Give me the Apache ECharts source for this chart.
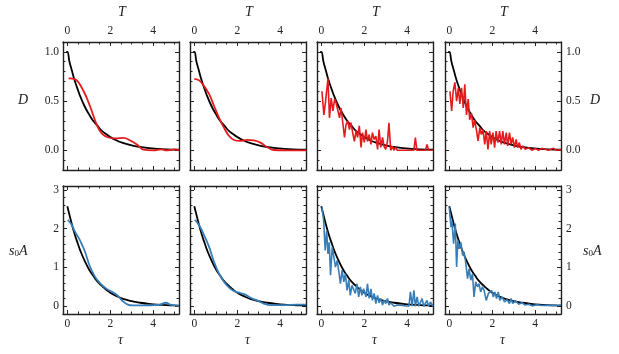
<!DOCTYPE html>
<html>
<head>
<meta charset="utf-8">
<script src="https://cdn.jsdelivr.net/npm/echarts@6/dist/echarts.min.js"></script>
<style>
  html, body { margin: 0; padding: 0; background: #fff; }
  #chart { width: 619px; height: 354px; }
</style>
</head>
<body>
<div id="chart"></div>
<script>
// tick values
const xTicks = [0, 2, 4]
const xMinor = [0.5, 1, 1.5, 2.5, 3, 3.5, 4.5, 5]
const dTicks = [0, 0.5, 1]
const dMinor = [-0.1, 0.1, 0.2, 0.3, 0.4, 0.6, 0.7, 0.8, 0.9]
const aTicks = [0, 1, 2, 3]
const aMinor = [0.2, 0.4, 0.6, 0.8, 1.2, 1.4, 1.6, 1.8, 2.2, 2.4, 2.6, 2.8]

// black reference curves [tau, value]
const blackD = [[-0.05, 1.0], [0, 1.0], [0.1, 0.9], [0.2, 0.82], [0.3, 0.74], [0.4, 0.67], [0.5, 0.61],
  [0.6, 0.55], [0.8, 0.45], [1.0, 0.37], [1.2, 0.3], [1.4, 0.25], [1.6, 0.2], [1.8, 0.165],
  [2.0, 0.135], [2.3, 0.1], [2.6, 0.075], [3.0, 0.05], [3.4, 0.034], [3.8, 0.022], [4.2, 0.015],
  [4.6, 0.01], [5.0, 0.007], [5.2, 0.006]]
const blackA = [[0, 2.58], [0.1, 2.36], [0.2, 2.14], [0.3, 1.94], [0.4, 1.76], [0.5, 1.6], [0.6, 1.44],
  [0.8, 1.18], [1.0, 0.96], [1.2, 0.79], [1.4, 0.64], [1.6, 0.53], [1.8, 0.43], [2.0, 0.35],
  [2.3, 0.26], [2.6, 0.19], [3.0, 0.13], [3.4, 0.09], [3.8, 0.06], [4.2, 0.04], [4.6, 0.03],
  [5.0, 0.02], [5.2, 0.017]]

// red D estimates, one per column
const redD1 = [[0.06, 0.73], [0.37, 0.72], [0.76, 0.6], [1.07, 0.44], [1.38, 0.255], [1.61, 0.17],
  [1.92, 0.13], [2.23, 0.12], [2.62, 0.126], [2.93, 0.1], [3.24, 0.06], [3.55, 0.007], [4.0, 0],
  [4.4, 0.01], [4.6, 0], [5.0, 0.01], [5.2, 0]]
const redD2 = [[0, 0.726], [0.23, 0.71], [0.46, 0.65], [0.69, 0.57], [0.92, 0.45], [1.15, 0.33],
  [1.38, 0.23], [1.62, 0.145], [1.85, 0.105], [2.15, 0.095], [2.46, 0.105], [2.77, 0.1],
  [3.08, 0.078], [3.38, 0.034], [3.69, 0.003], [4.3, 0], [5.2, 0]]
const redD3 = [[0.03, 0.6], [0.12, 0.36], [0.2, 0.5], [0.31, 0.73], [0.38, 0.33], [0.46, 0.53],
  [0.54, 0.4], [0.62, 0.52], [0.69, 0.48], [0.77, 0.5], [0.85, 0.33], [0.92, 0.43], [1.0, 0.42],
  [1.08, 0.13], [1.15, 0.26], [1.23, 0.3], [1.31, 0.21], [1.38, 0.28], [1.46, 0.18], [1.54, 0.09],
  [1.62, 0.2], [1.69, 0.13], [1.77, 0.25], [1.85, 0.03], [1.92, 0.18], [2.0, 0.08], [2.08, 0.21],
  [2.15, 0.09], [2.23, 0.16], [2.31, 0.06], [2.38, 0.18], [2.46, 0.11], [2.54, 0.145], [2.62, 0.01],
  [2.69, 0.21], [2.77, 0.03], [2.85, 0.13], [2.92, 0.04], [3.0, 0.01], [3.08, 0.09], [3.15, 0.28],
  [3.23, 0], [3.31, 0.04], [3.38, 0], [3.46, 0.03], [3.54, 0], [4.31, 0], [4.38, 0.13], [4.45, 0],
  [4.85, 0], [4.92, 0.06], [5.0, 0], [5.2, 0]]
const redD4 = [[0.03, 0.6], [0.11, 0.4], [0.18, 0.6], [0.26, 0.69], [0.34, 0.5], [0.42, 0.635],
  [0.49, 0.47], [0.57, 0.635], [0.65, 0.43], [0.72, 0.67], [0.8, 0.36], [0.88, 0.52], [0.95, 0.31],
  [1.03, 0.38], [1.11, 0.23], [1.18, 0.31], [1.26, 0.21], [1.34, 0.095], [1.42, 0.23], [1.49, 0.16],
  [1.57, 0.21], [1.65, 0.06], [1.72, 0.196], [1.8, 0.01], [1.88, 0.196], [1.95, 0.06], [2.03, 0.18],
  [2.11, 0.027], [2.18, 0.196], [2.26, 0.078], [2.34, 0.196], [2.42, 0.06], [2.49, 0.196], [2.57, 0.06],
  [2.65, 0.18], [2.72, 0.044], [2.8, 0.18], [2.88, 0.06], [2.95, 0.13], [3.03, 0.027], [3.11, 0.11],
  [3.18, 0.027], [3.26, 0.078], [3.34, 0.01], [3.42, 0.044], [3.54, 0.01], [3.69, 0.027], [3.85, 0],
  [4.0, 0.02], [4.15, 0], [4.31, 0.02], [4.62, 0], [4.85, 0.02], [5.0, 0], [5.2, 0.007]]

// blue s0A estimates, one per column
const blueA1 = [[0.02, 2.23], [0.2, 2.1], [0.35, 1.93], [0.58, 1.71], [0.82, 1.41], [1.05, 1.03],
  [1.28, 0.77], [1.51, 0.6], [1.82, 0.45], [2.12, 0.36], [2.35, 0.27], [2.58, 0.13], [2.82, 0.04],
  [3.05, 0.02], [3.5, 0.02], [4.0, 0.03], [4.3, 0.04], [4.6, 0.09], [4.8, 0.04], [5.05, 0.02], [5.2, 0]]
const blueA2 = [[0.03, 2.23], [0.23, 2.08], [0.46, 1.83], [0.69, 1.53], [0.92, 1.14], [1.15, 0.84],
  [1.38, 0.63], [1.62, 0.48], [1.85, 0.39], [2.15, 0.34], [2.38, 0.3], [2.62, 0.22], [2.92, 0.15],
  [3.23, 0.07], [3.54, 0.03], [4.15, 0.03], [4.77, 0.04], [5.2, 0.04]]
const blueA3 = [[0.03, 2.55], [0.11, 2.21], [0.18, 1.44], [0.25, 1.95], [0.31, 1.35], [0.37, 1.65],
  [0.43, 0.8], [0.51, 1.53], [0.58, 1.57], [0.66, 1.01], [0.74, 1.18], [0.82, 0.88], [0.89, 0.58],
  [0.97, 0.93], [1.05, 0.63], [1.12, 0.84], [1.2, 0.41], [1.28, 0.67], [1.35, 0.28], [1.43, 0.54],
  [1.51, 0.5], [1.58, 0.33], [1.66, 0.58], [1.74, 0.24], [1.82, 0.5], [1.89, 0.28], [1.97, 0.45],
  [2.08, 0.24], [2.15, 0.58], [2.23, 0.2], [2.31, 0.45], [2.38, 0.15], [2.46, 0.33], [2.54, 0.07],
  [2.62, 0.28], [2.69, 0.09], [2.77, 0.2], [2.85, 0.03], [2.92, 0.15], [3.0, 0.07], [3.08, 0.2],
  [3.15, 0.03], [3.23, 0.09], [3.38, 0], [3.54, 0.03], [4.08, 0], [4.15, 0.37], [4.23, 0], [4.31, 0.41],
  [4.38, 0], [4.46, 0.24], [4.54, 0], [4.69, 0.2], [4.77, 0], [4.92, 0.15], [5.0, 0], [5.08, 0.11],
  [5.2, 0]]
const blueA4 = [[0, 2.55], [0.08, 2.04], [0.12, 2.21], [0.2, 1.61], [0.28, 2.13], [0.34, 1.01],
  [0.4, 1.7], [0.46, 1.48], [0.54, 1.65], [0.62, 1.31], [0.69, 1.4], [0.77, 1.1], [0.85, 0.71],
  [0.92, 0.97], [1.0, 0.67], [1.08, 0.84], [1.15, 0.24], [1.23, 0.63], [1.31, 0.5], [1.38, 0.58],
  [1.46, 0.37], [1.54, 0.5], [1.62, 0.41], [1.72, 0.15], [1.82, 0.33], [1.89, 0.28], [1.97, 0.41],
  [2.05, 0.24], [2.12, 0.37], [2.2, 0.2], [2.28, 0.37], [2.35, 0.15], [2.46, 0.24], [2.57, 0.11],
  [2.69, 0.17], [2.8, 0.07], [2.88, 0.2], [2.95, 0.07], [3.08, 0.14], [3.23, 0.05], [3.38, 0.09],
  [3.54, 0.03], [3.69, 0.05], [3.85, 0.01], [4.08, 0.04], [4.31, 0.02], [4.62, 0.03], [4.92, 0.02],
  [5.2, 0.03]]

const redSets = [redD1, redD2, redD3, redD4]
const blueSets = [blueA1, blueA2, blueA3, blueA4]

const RED = '#e41a1c'
const BLUE = '#377eb8'
const INK = '#222'
const FONT = 'Liberation Serif'

const lefts = [63, 190, 317, 445]
const tops = [42, 186]
const W = 116
const H = 128

const chart = echarts.init(document.getElementById('chart'))

const grids = []
const xAxes = []
const yAxes = []
const series = []

function axis(kind, g, pos, major, labels, range, fmt) {
  const isX = kind === 'x'
  return {
    type: 'value',
    gridIndex: g,
    position: pos,
    min: range[0],
    max: range[1],
    splitLine: { show: false },
    axisLine: { show: major, onZero: false, lineStyle: { color: INK, width: 1.4 } },
    axisTick: {
      show: true,
      inside: true,
      length: major ? 4 : 2.5,
      customValues: major ? (isX ? xTicks : fmt.ticks) : (isX ? xMinor : fmt.minor),
      lineStyle: { color: INK, width: 1 }
    },
    axisLabel: {
      show: labels,
      customValues: isX ? xTicks : fmt.ticks,
      margin: isX ? (pos === 'top' ? 5 : 4) : (pos === 'left' ? 4 : 5),
      fontFamily: FONT,
      fontSize: 11.5,
      color: INK,
      formatter: v => isX ? String(v) : fmt.label(v)
    }
  }
}

const rowFmt = [
  { ticks: dTicks, minor: dMinor, range: [-0.2, 1.1], label: v => v.toFixed(1) },
  { ticks: aTicks, minor: aMinor, range: [-0.2, 3.1], label: v => String(v) }
]

for (let r = 0; r < 2; r++) {
  for (let c = 0; c < 4; c++) {
    const g = r * 4 + c
    const f = rowFmt[r]
    grids.push({ left: lefts[c], top: tops[r], width: W, height: H, containLabel: false, outerBoundsMode: 'none' })
    const xr = [-0.2, 5.2]
    xAxes.push(axis('x', g, 'bottom', true, r === 1, xr, f))
    xAxes.push(axis('x', g, 'top', true, r === 0, xr, f))
    xAxes.push(axis('x', g, 'bottom', false, false, xr, f))
    xAxes.push(axis('x', g, 'top', false, false, xr, f))
    yAxes.push(axis('y', g, 'left', true, c === 0, f.range, f))
    yAxes.push(axis('y', g, 'right', true, c === 3, f.range, f))
    yAxes.push(axis('y', g, 'left', false, false, f.range, f))
    yAxes.push(axis('y', g, 'right', false, false, f.range, f))

    const smooth = c < 2
    series.push({
      type: 'line', xAxisIndex: 4 * g, yAxisIndex: 4 * g,
      data: r === 0 ? blackD : blackA, showSymbol: false, smooth: true,
      lineStyle: { color: '#000', width: 1.8 }, z: 2
    })
    series.push({
      type: 'line', xAxisIndex: 4 * g, yAxisIndex: 4 * g,
      data: r === 0 ? redSets[c] : blueSets[c], showSymbol: false,
      smooth: smooth ? 0.4 : false,
      lineStyle: { color: r === 0 ? RED : BLUE, width: smooth ? 1.8 : 1.6 }, z: 3
    })
  }
}

const centers = lefts.map(l => l + W / 2)
const titleStyle = { fontFamily: FONT, fontSize: 14, fontStyle: 'italic', fill: INK, align: 'center', verticalAlign: 'middle' }
const graphics = []
centers.forEach(cx => {
  graphics.push({ type: 'text', left: cx - 3, top: 5, style: Object.assign({}, titleStyle, { text: 'T' }) })
  graphics.push({ type: 'text', left: cx - 3, top: 333, style: Object.assign({}, titleStyle, { text: 'τ' }) })
})
graphics.push({ type: 'text', left: 18, top: 93, style: Object.assign({}, titleStyle, { text: 'D' }) })
graphics.push({ type: 'text', left: 590, top: 93, style: Object.assign({}, titleStyle, { text: 'D' }) })
const richA = {
  i: { fontFamily: FONT, fontSize: 14, fontStyle: 'italic', fill: INK },
  s: { fontFamily: FONT, fontSize: 9, fill: INK, padding: [6, 0, 0, 0] }
}
graphics.push({ type: 'text', left: 9, top: 244, style: { text: '{i|s}{s|0}{i|A}', rich: richA } })
graphics.push({ type: 'text', left: 583, top: 244, style: { text: '{i|s}{s|0}{i|A}', rich: richA } })

chart.setOption({
  animation: false,
  backgroundColor: '#fff',
  grid: grids,
  xAxis: xAxes,
  yAxis: yAxes,
  series: series,
  graphic: graphics
})
</script>
</body>
</html>
